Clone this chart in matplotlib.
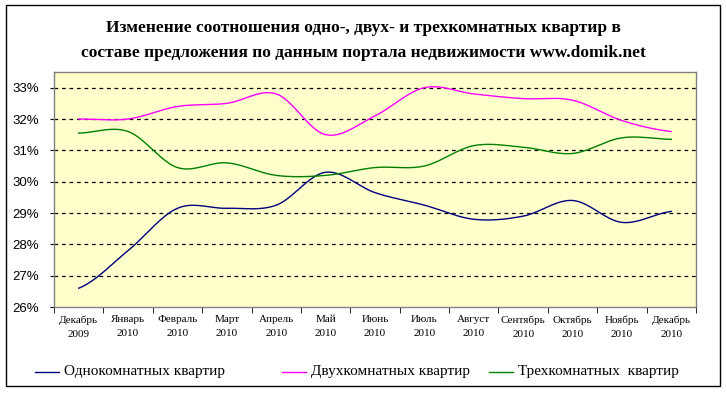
import numpy as np
import matplotlib
matplotlib.use("Agg")
import matplotlib.pyplot as plt
from matplotlib.patches import Rectangle
from matplotlib.lines import Line2D
from matplotlib.ticker import FixedLocator, FuncFormatter

plt.rcParams['font.family'] = ['Liberation Serif', 'DejaVu Serif']

months = ["Декабрь\n2009", "Январь\n2010", "Февраль\n2010", "Март\n2010", "Апрель\n2010",
          "Май\n2010", "Июнь\n2010", "Июль\n2010", "Август\n2010", "Сентябрь\n2010",
          "Октябрь\n2010", "Ноябрь\n2010", "Декабрь\n2010"]
one_room = [26.6, 27.8, 29.15, 29.15, 29.25, 30.3, 29.65, 29.25, 28.8, 28.9, 29.4, 28.7, 29.05]
two_room = [32.0, 32.0, 32.4, 32.5, 32.8, 31.5, 32.1, 33.0, 32.8, 32.65, 32.6, 31.95, 31.6]
three_room = [31.55, 31.6, 30.45, 30.6, 30.2, 30.2, 30.45, 30.5, 31.15, 31.1, 30.9, 31.4, 31.35]
series_names = ["Однокомнатных квартир", "Двухкомнатных квартир", "Трехкомнатных  квартир"]
series_colors = ["#000080", "#FF00FF", "#008000"]

W, H = 727, 393


def smooth(xs, ys, n=20):
    # Excel-like smoothed line (Catmull-Rom through the points)
    xs = np.asarray(xs, float)
    ys = np.asarray(ys, float)
    px = np.concatenate([[2 * xs[0] - xs[1]], xs, [2 * xs[-1] - xs[-2]]])
    py = np.concatenate([[ys[0]], ys, [ys[-1]]])
    ox, oy = [], []
    t = np.linspace(0, 1, n, endpoint=False)
    for i in range(1, len(px) - 2):
        for P, out in ((py[i - 1:i + 3], oy), (px[i - 1:i + 3], ox)):
            a, b, c, d = P
            out.extend(0.5 * ((2 * b) + (-a + c) * t + (2 * a - 5 * b + 4 * c - d) * t ** 2
                              + (-a + 3 * b - 3 * c + d) * t ** 3))
    ox.append(xs[-1])
    oy.append(ys[-1])
    return np.array(ox), np.array(oy)


fig = plt.figure(figsize=(W / 100, H / 100), dpi=100)
fig.patches.append(Rectangle((6 / W, 7 / H), 714 / W, 381 / H, transform=fig.transFigure,
                             fill=False, edgecolor='black', linewidth=1.0))

ax = fig.add_axes([54 / W, 1 - 307 / H, 642 / W, 235 / H])
ax.set_facecolor('#FFFFCC')
for s in ax.spines.values():
    s.set_color('#808080')
    s.set_linewidth(1.0)

x = np.arange(len(months))
for vals, col in zip([one_room, two_room, three_room], series_colors):
    sx, sy = smooth(x, vals)
    ax.plot(sx, sy, color=col, linewidth=1.0)

ax.set_xlim(-0.5, len(months) - 0.5)
ax.set_ylim(26, 33.5)
ax.set_yticks(np.arange(26, 34, 1))
ax.yaxis.set_major_formatter(FuncFormatter(lambda v, p: f"{int(v)}%"))
for lab in ax.get_yticklabels():
    lab.set_family(['Liberation Sans', 'DejaVu Sans'])
for yv in range(27, 34):
    ax.axhline(yv, color='black', linestyle=(0, (3, 3)), linewidth=0.9, zorder=0.5)

ax.set_xticks(x)
ax.set_xticklabels(months, fontsize=8, linespacing=1.7)
ax.xaxis.set_minor_locator(FixedLocator(np.arange(-0.5, len(months), 1)))
ax.tick_params(axis='x', which='major', length=0, pad=6)
ax.tick_params(axis='x', which='minor', length=4, direction='out', color='black')
ax.tick_params(axis='y', length=3, direction='out', labelsize=9.5, pad=8)

fig.text(0.5, 1 - 28 / H, "Изменение соотношения одно-, двух- и трехкомнатных квартир в",
         ha='center', va='center', fontsize=12.5, fontweight='bold')
fig.text(0.5, 1 - 53 / H, "составе предложения по данным портала недвижимости www.domik.net",
         ha='center', va='center', fontsize=12.5, fontweight='bold')

# legend at the bottom, placed like the original
leg_x = [35, 282, 489]
leg_y = 1 - 372 / H
for lx, name, col in zip(leg_x, series_names, series_colors):
    fig.add_artist(Line2D([lx / W, (lx + 24) / W], [leg_y, leg_y], color=col, linewidth=1.0))
    fig.text((lx + 29) / W, leg_y, name, ha='left', va='center', fontsize=11)

fig.savefig("out.png", dpi=100)
